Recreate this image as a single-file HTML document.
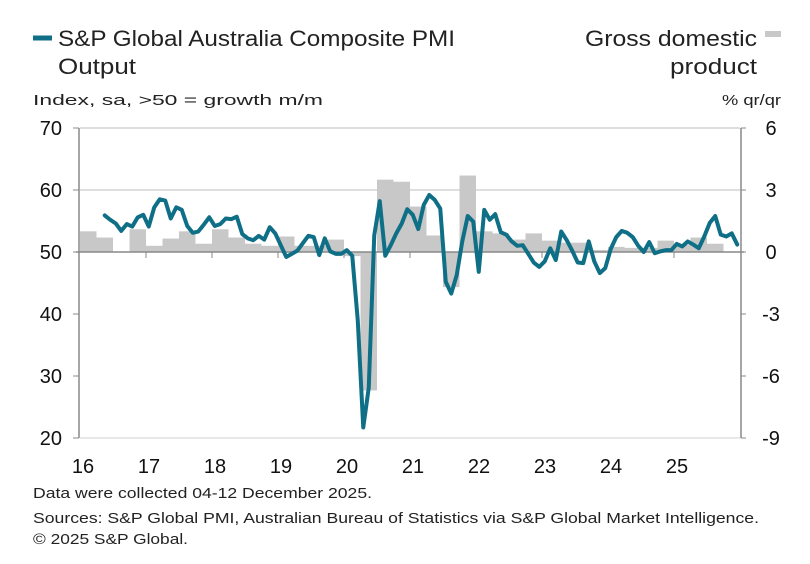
<!DOCTYPE html>
<html><head><meta charset="utf-8"><style>
body{margin:0;background:#fff;width:810px;height:559px;overflow:hidden;font-family:"Liberation Sans",sans-serif;}
svg text{font-family:"Liberation Sans",sans-serif;}
</style></head><body>
<svg id="chart" width="810" height="559">
<g id="legend">
 <line x1="33" y1="38" x2="52" y2="38" stroke="#0e6f86" stroke-width="5"/>
 <text x="58" y="46" font-size="22" fill="#222" textLength="397" lengthAdjust="spacingAndGlyphs">S&amp;P Global Australia Composite PMI</text>
 <text x="58" y="74" font-size="22" fill="#222" textLength="78" lengthAdjust="spacingAndGlyphs">Output</text>
 <rect x="765" y="31" width="16" height="6" fill="#c8c8c8"/>
 <text x="585" y="46" font-size="22" fill="#222" textLength="172" lengthAdjust="spacingAndGlyphs">Gross domestic</text>
 <text x="670" y="74" font-size="22" fill="#222" textLength="87" lengthAdjust="spacingAndGlyphs">product</text>
</g>
<text x="33" y="105" font-size="15" fill="#222" textLength="290" lengthAdjust="spacingAndGlyphs">Index, sa, &gt;50 = growth m/m</text>
<text x="722" y="105" font-size="15" fill="#222" textLength="59" lengthAdjust="spacingAndGlyphs">% qr/qr</text>
<g id="grid"></g><g id="bars"></g><g id="axes"></g><g id="line"></g>
<text x="33" y="498" font-size="15" fill="#222" textLength="339" lengthAdjust="spacingAndGlyphs">Data were collected 04-12 December 2025.</text>
<text x="33" y="523" font-size="15" fill="#222" textLength="726" lengthAdjust="spacingAndGlyphs">Sources: S&amp;P Global PMI, Australian Bureau of Statistics via S&amp;P Global Market Intelligence.</text>
<text x="33" y="544" font-size="15" fill="#222" textLength="155" lengthAdjust="spacingAndGlyphs">© 2025 S&amp;P Global.</text>
</svg>
<script>
const pmiStartMonth = 4; // May 2016
const pmiValues = [55.9,55.2,54.6,53.4,54.5,54.1,55.6,56.0,
54.1,57.2,58.5,58.3,55.4,57.2,56.8,54.2,53.1,53.3,54.4,55.6,
54.2,54.5,55.4,55.3,55.7,52.9,52.2,51.9,52.6,52.0,54.0,53.0,
51.1,49.2,49.7,50.2,51.4,52.6,52.4,49.5,52.2,50.1,49.7,49.7,
50.3,49.4,39.0,21.7,28.1,52.7,58.2,49.4,51.1,53.0,54.6,56.9,
56.0,53.7,57.6,59.2,58.4,57.0,45.2,43.3,46.3,51.7,55.8,54.9,
46.8,56.8,55.2,56.1,53.2,52.8,51.7,51.0,51.1,49.7,48.3,47.6,
48.5,50.6,48.7,53.3,51.9,50.2,48.3,48.2,51.7,48.5,46.6,47.4,
50.5,52.4,53.4,53.1,52.4,51.0,50.0,51.6,49.8,50.1,50.3,50.3,
51.3,50.9,51.7,51.2,50.6,52.5,54.7,55.8,52.8,52.5,53.0,51.2];
const gdpValues = [1.0,0.7,0.0,1.1, 0.3,0.65,1.0,0.4, 1.1,0.7,0.4,0.3, 0.75,0.3,0.3,0.6,
-0.2,-6.7,3.5,3.4, 2.2,0.8,-1.7,3.7, 1.0,0.9,0.6,0.9, 0.55,0.45,0.45,0.1,
0.25,0.2,0.2,0.55, 0.35,0.7,0.4];
const yearLabels = ["16","17","18","19","20","21","22","23","24","25"];
const leftTicks = [70,60,50,40,30,20];
const rightTicks = ["6","3","0","-3","-6","-9"];

const X0=80, X1=740, YT=128, YB=438, MONTHS=120;
const xm = m => X0 + m*(X1-X0)/MONTHS;
const yL = v => YB - (v-20)*(YB-YT)/50;
const yR = v => YB - (v+9)*(YB-YT)/15;
const NS="http://www.w3.org/2000/svg";
function mk(tag, parent, attrs){const e=document.createElementNS(NS,tag);for(const k in attrs)e.setAttribute(k,attrs[k]);parent.appendChild(e);return e;}
const grid=document.getElementById('grid'), bars=document.getElementById('bars'), axes=document.getElementById('axes'), lineG=document.getElementById('line');

[70,60].forEach(v=>{
 const g=mk('line',grid,{x1:X0,x2:X1,y1:yL(v),y2:yL(v),stroke:'#bdbdbd','stroke-width':1});
 
 
});

gdpValues.forEach((v,i)=>{
 const x=xm(i*3), w=xm(3)-xm(0);
 const y0=yR(0), y1=yR(v);
 const r=mk('rect',bars,{x:x,y:Math.min(y0,y1),width:w,height:Math.abs(y1-y0),fill:'#c8c8c8'});
 
 
});

let a=mk('line',axes,{x1:X0-1,x2:X0-1,y1:YT,y2:YB,stroke:'#888','stroke-width':1.5});


a=mk('line',axes,{x1:X1+1,x2:X1+1,y1:YT,y2:YB,stroke:'#888','stroke-width':1.5});


a=mk('line',axes,{x1:X0-4,x2:X1+4,y1:yL(50),y2:yL(50),stroke:'#888','stroke-width':1.5});


a=mk('line',axes,{x1:X0,x2:X1,y1:YB,y2:YB,stroke:'#d0d0d0','stroke-width':1});



leftTicks.forEach(v=>{
 const t=mk('line',axes,{x1:X0-7,x2:X0-1,y1:yL(v),y2:yL(v),stroke:'#888','stroke-width':1});
 
 
 const l=mk('text',axes,{x:62,y:yL(v)+7,'font-size':20,'text-anchor':'end',fill:'#111'});
 l.textContent=v;
 
 
});
rightTicks.forEach((s,i)=>{
 const v=parseFloat(s);
 const t=mk('line',axes,{x1:X1+1,x2:X1+6,y1:yR(v),y2:yR(v),stroke:'#888','stroke-width':1});
 
 
 const l=mk('text',axes,{x:771,y:yR(v)+7,'font-size':20,'text-anchor':'middle',fill:'#111'});
 l.textContent=s;
 
 
});
yearLabels.forEach((s,i)=>{
 if(i>0){
  const t=mk('line',axes,{x1:xm(i*12),x2:xm(i*12),y1:yL(50),y2:yL(50)+6,stroke:'#888','stroke-width':1});
  
  
 }
 const l=mk('text',axes,{x:xm(i*12)+3,y:473,'font-size':20,'text-anchor':'middle',fill:'#111'});
 l.textContent=s;
 
 
});

const pts=pmiValues.map((v,i)=>xm(pmiStartMonth+i+0.5).toFixed(2)+','+yL(v).toFixed(2)).join(' ');
const pl=mk('polyline',lineG,{points:pts,fill:'none',stroke:'#0e6f86','stroke-width':4,'stroke-linejoin':'round','stroke-linecap':'round'});


</script>
</body></html>
